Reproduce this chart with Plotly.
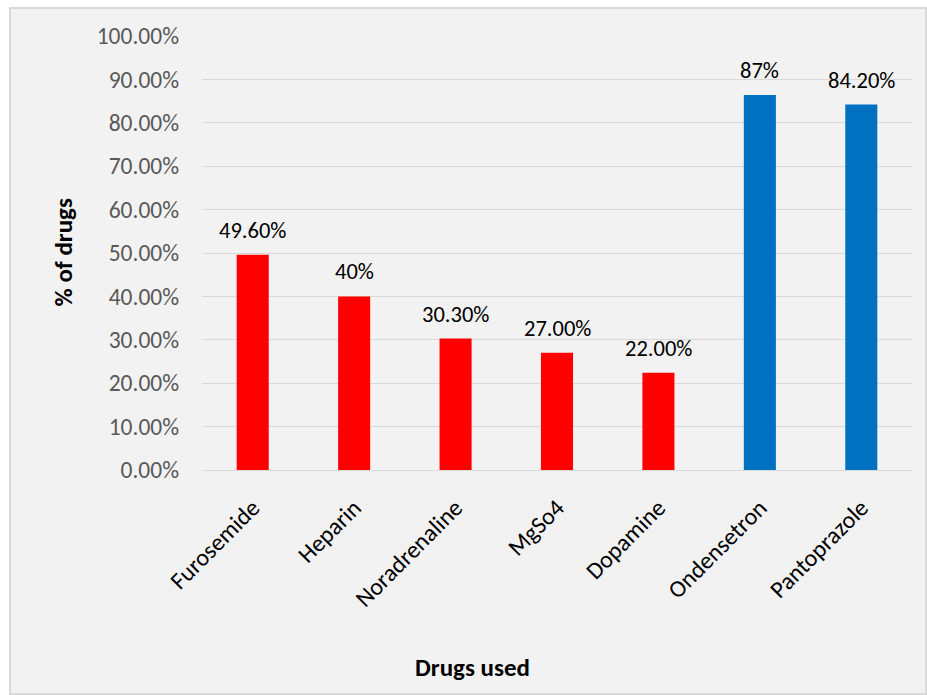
import plotly.graph_objects as go

categories = ["Furosemide", "Heparin", "Noradrenaline", "MgSo4", "Dopamine", "Ondensetron", "Pantoprazole"]
values = [0.496, 0.40, 0.303, 0.270, 0.224, 0.864, 0.842]
labels = ["49.60%", "40%", "30.30%", "27.00%", "22.00%", "87%", "84.20%"]
colors = ["#FF0000"] * 5 + ["#0070C0"] * 2
y_ticks = [i / 10 for i in range(11)]

W, H = 927, 695
L, R, T, B = 202, 15, 36, 225
pw, ph = W - L - R, H - T - B

FONT = "Calibri, Carlito, Lato, sans-serif"

fig = go.Figure()
fig.add_trace(go.Bar(x=categories, y=values, marker=dict(color=colors, line=dict(width=0)),
                     hoverinfo="skip"))

annotations = []
for c, v, t in zip(categories, values, labels):
    annotations.append(dict(x=c, y=v, xref="x", yref="y", text=t, showarrow=False,
                            yanchor="bottom", yshift=9,
                            font=dict(family=FONT, size=22.5, color="#000000")))

# axis titles
annotations.append(dict(xref="paper", yref="paper", x=(62.5 - L) / pw, y=0.5,
                        text="<b>% of drugs</b>", textangle=-90, showarrow=False,
                        xanchor="center", yanchor="middle",
                        font=dict(family=FONT, size=25, color="#000000")))
annotations.append(dict(xref="paper", yref="paper", x=(472.5 - L) / pw, y=-(667 - (T + ph)) / ph,
                        text="<b>Drugs used</b>", showarrow=False,
                        xanchor="center", yanchor="middle",
                        font=dict(family=FONT, size=25, color="#000000")))

fig.update_layout(
    width=W, height=H,
    margin=dict(l=L, r=R, t=T, b=B, pad=0),
    paper_bgcolor="#FFFFFF",
    plot_bgcolor="#F2F2F2",
    bargap=0.684,
    showlegend=False,
    annotations=annotations,
    shapes=[dict(type="rect", xref="paper", yref="paper",
                 x0=(10 - L) / pw, x1=(926 - L) / pw,
                 y0=(T + ph - 694) / ph, y1=(T + ph - 8) / ph,
                 fillcolor="#F2F2F2", line=dict(color="#D9D9D9", width=2), layer="below")],
    xaxis=dict(tickangle=-45, showgrid=False, zeroline=False, showline=False,
               ticks="", ticklabelstandoff=18,
               tickfont=dict(family=FONT, size=24, color="#000000")),
    yaxis=dict(range=[0, 1], tickvals=y_ticks, tickformat=".2%",
               showgrid=True, gridcolor="#D9D9D9", gridwidth=1.3,
               zeroline=True, zerolinecolor="#D9D9D9", zerolinewidth=1.3,
               showline=False, ticks="", ticklabelstandoff=22,
               tickfont=dict(family=FONT, size=23.5, color="#595959")),
)

fig.write_html("out.html")
